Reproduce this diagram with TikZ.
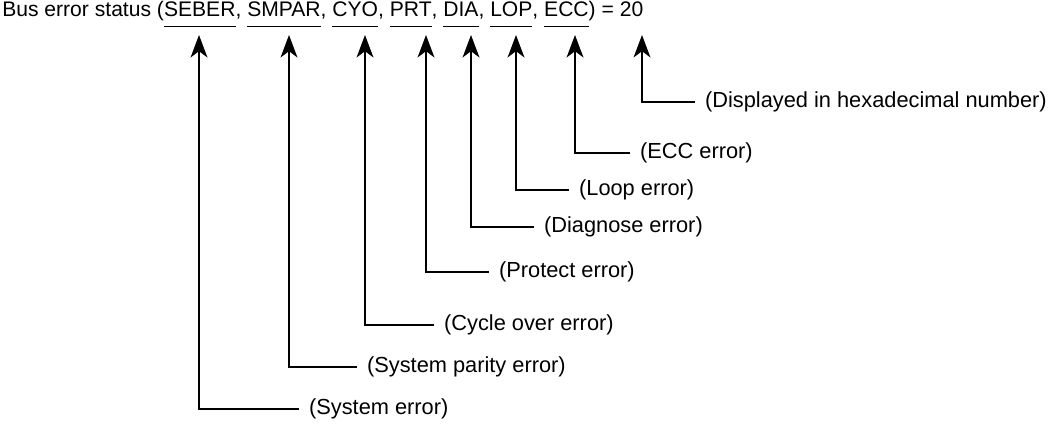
\documentclass[tikz,border=0pt]{standalone}
\usepackage{fontspec}
\setmainfont{Liberation Sans}
\usetikzlibrary{arrows.meta}
\newcommand{\ulw}[1]{\underline{#1\rule[-5pt]{0pt}{0pt}}}

\begin{document}
\begin{tikzpicture}[x=0.025cm, y=-0.025cm, font=\fontsize{15.5}{18}\selectfont,
    lbl/.style = {anchor=west, inner xsep=7pt, inner ysep=0pt},
    arr/.style = {-{Stealth[length=16pt, width=12pt, inset=4.5pt]}, line width=1pt}]
    \useasboundingbox (0,0) rectangle (1052,425);
    \node[anchor=base west, inner sep=0pt, font=\fontsize{15}{18}\selectfont] (title) at (2,17)
        {Bus error status (\ulw{SEBER}, \ulw{SMPAR}, \ulw{CYO}, \ulw{PRT}, \ulw{DIA}, \ulw{LOP}, \ulw{ECC}) = 20};

    \coordinate (seber) at (199,35);
    \coordinate (smpar) at (289,35);
    \coordinate (cyo) at (365,35);
    \coordinate (prt) at (426,35);
    \coordinate (dia) at (471,35);
    \coordinate (lop) at (516,35);
    \coordinate (ecc) at (575,35);
    \coordinate (hex) at (642,35);

    \node[lbl] (syserr) at (299,409) {(System error)};
    \node[lbl] (parerr) at (357,367) {(System parity error)};
    \node[lbl] (cycerr) at (434,325) {(Cycle over error)};
    \node[lbl] (proterr) at (489,272) {(Protect error)};
    \node[lbl] (diaerr) at (534,227) {(Diagnose error)};
    \node[lbl] (looperr) at (569,190) {(Loop error)};
    \node[lbl] (eccerr) at (630,153) {(ECC error)};
    \node[lbl] (hexnum) at (695,102) {(Displayed in hexadecimal number)};

    \draw[arr] (syserr.west) -| (seber);
    \draw[arr] (parerr.west) -| (smpar);
    \draw[arr] (cycerr.west) -| (cyo);
    \draw[arr] (proterr.west) -| (prt);
    \draw[arr] (diaerr.west) -| (dia);
    \draw[arr] (looperr.west) -| (lop);
    \draw[arr] (eccerr.west) -| (ecc);
    \draw[arr] (hexnum.west) -| (hex);
\end{tikzpicture}
\end{document}
